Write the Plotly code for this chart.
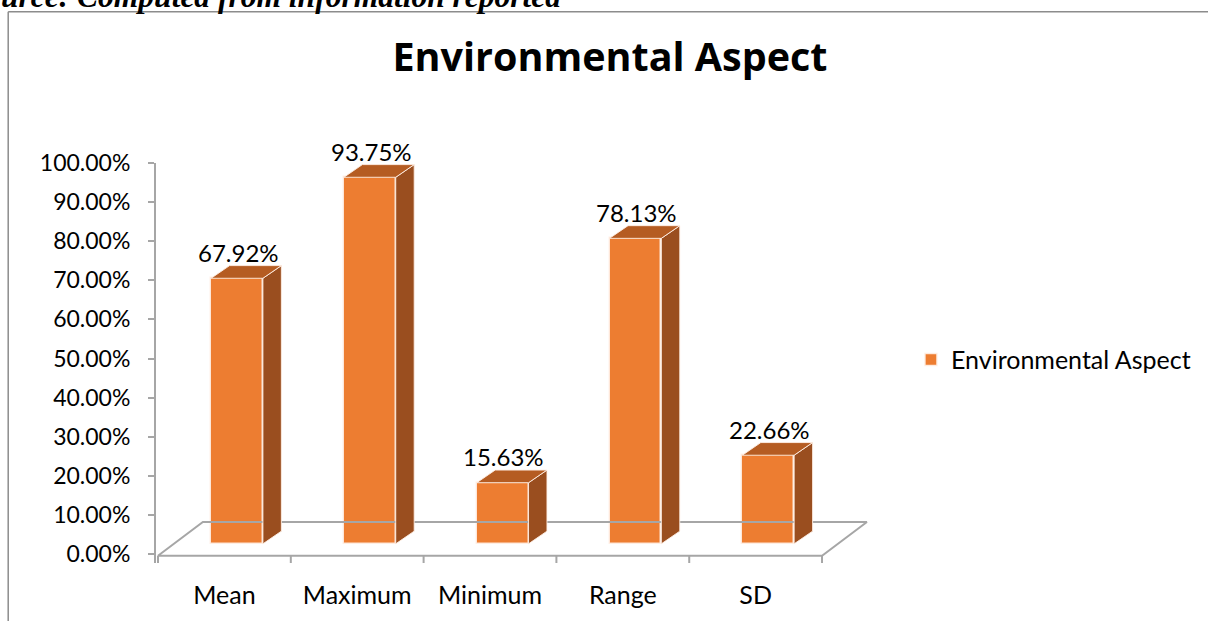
import plotly.graph_objects as go

# ---- data ----
categories = ["Mean", "Maximum", "Minimum", "Range", "SD"]
values = [67.92, 93.75, 15.63, 78.13, 22.66]
series_name = "Environmental Aspect"
title_text = "Environmental Aspect"
source_text = "urce: Computed from information reported"
y_ticks = [0, 10, 20, 30, 40, 50, 60, 70, 80, 90, 100]

# ---- style / geometry ----
FRONT = "#ED7D31"
SIDE = "#9A4E1F"
TOP = "#B55C22"
EDGE = "rgba(255,240,230,0.9)"
GRID = "#A6A6A6"
FONT = "Lato"

bar_offset = 0.095      # front face shift (depth)
bar_half = 0.195        # half width of front face
bar_base = 2.6          # front face bottom (depth)
ddx, ddy = 0.139, 3.24  # bar depth
fdx, fdy = 0.338, 8.6   # floor depth
floor_y = -0.43
y_min, y_max = -2.3, 100
x_min, x_max = -0.515, 4.929

PLOT_TOP, PLOT_BOT, PLOT_L, PLOT_R = 163, 567.4, 156, 880
PH = PLOT_BOT - PLOT_TOP
PW = PLOT_R - PLOT_L


def px_x(p):
    return (p - PLOT_L) / PW


def px_y(p):
    return (PLOT_BOT - p) / PH


def data_to_paper_y(v):
    return (v - y_min) / (y_max - y_min)


fig = go.Figure()

# floor outline
n = len(categories)
fx = [-0.5, -0.5 + fdx, n - 0.5 + fdx, n - 0.5, -0.5, None]
fy = [floor_y, floor_y + fdy, floor_y + fdy, floor_y, floor_y, None]
# category boundary ticks
for i in range(n + 1):
    fx += [i - 0.5, i - 0.5, None]
    fy += [floor_y, y_min, None]
fig.add_trace(go.Scatter(x=fx, y=fy, mode="lines",
                         line=dict(color=GRID, width=2),
                         hoverinfo="skip", showlegend=False))

# front faces
fig.add_trace(go.Bar(
    x=[i + bar_offset for i in range(n)], y=values, base=[bar_base] * n,
    width=2 * bar_half, name=series_name,
    marker=dict(color=FRONT, line=dict(color=EDGE, width=1.5)),
    showlegend=True))

# side and top faces
for i, v in enumerate(values):
    x0 = i + bar_offset - bar_half
    x1 = i + bar_offset + bar_half
    y0 = bar_base
    y1 = bar_base + v
    fig.add_trace(go.Scatter(
        x=[x1, x1 + ddx, x1 + ddx, x1, x1],
        y=[y0, y0 + ddy, y1 + ddy, y1, y0],
        fill="toself", fillcolor=SIDE, mode="lines",
        line=dict(color=EDGE, width=1), hoverinfo="skip", showlegend=False))
    fig.add_trace(go.Scatter(
        x=[x0, x1, x1 + ddx, x0 + ddx, x0],
        y=[y1, y1, y1 + ddy, y1 + ddy, y1],
        fill="toself", fillcolor=TOP, mode="lines",
        line=dict(color=EDGE, width=1), hoverinfo="skip", showlegend=False))

# data labels (x in data units, y mapped from the value axis onto the paper)
annotations = []
for i, v in enumerate(values):
    annotations.append(dict(
        x=i + bar_offset + 0.01, xref="x",
        y=data_to_paper_y(bar_base + v + ddy + 3.4), yref="paper",
        text=f"{v:.2f}%", showarrow=False, xanchor="center", yanchor="middle",
        font=dict(family=FONT, size=24, color="#000000")))

annotations.append(dict(
    text=f"<b><i>{source_text}</i></b>", xref="paper", yref="paper",
    x=px_x(-1), xanchor="left", y=px_y(-5), yanchor="middle", showarrow=False,
    font=dict(family="Liberation Serif", size=31.5, color="#000000")))

fig.update_layout(
    width=1208, height=621,
    margin=dict(l=PLOT_L, r=1208 - PLOT_R, t=PLOT_TOP, b=621 - PLOT_BOT, pad=0),
    paper_bgcolor="white", plot_bgcolor="white",
    font=dict(family=FONT, color="#000000"),
    title=dict(text=f"<b>{title_text}</b>", x=610 / 1208, xref="container",
               xanchor="center", y=1 - 57 / 621, yref="container",
               yanchor="middle", font=dict(family="Open Sans", size=39.5, color="#000000")),
    xaxis=dict(range=[x_min, x_max], tickvals=list(range(n)), ticktext=categories,
               showline=False, showgrid=False, zeroline=False, ticks="",
               ticklabelstandoff=15,
               tickfont=dict(family=FONT, size=25, color="#000000")),
    yaxis=dict(range=[y_min, y_max], tickvals=y_ticks,
               ticktext=[f"{t:.2f}%" for t in y_ticks],
               showline=True, linecolor=GRID, linewidth=2,
               ticks="outside", ticklen=6, tickcolor=GRID, tickwidth=2,
               showgrid=False, zeroline=False, ticklabelstandoff=13,
               tickfont=dict(family=FONT, size=23, color="#000000")),
    legend=dict(x=px_x(912), xanchor="left", y=px_y(362), yanchor="middle",
                font=dict(family=FONT, size=25, color="#000000"),
                bgcolor="rgba(0,0,0,0)"),
    bargap=0,
    shapes=[
        dict(type="line", xref="paper", yref="paper",
             x0=px_x(8), x1=px_x(8), y0=px_y(10), y1=px_y(640),
             line=dict(color="#8C8C8C", width=1.5)),
        dict(type="line", xref="paper", yref="paper",
             x0=px_x(8), x1=px_x(1220), y0=px_y(10), y1=px_y(10),
             line=dict(color="#8C8C8C", width=1.5)),
    ],
    annotations=annotations,
)

fig.write_html("out.html")
